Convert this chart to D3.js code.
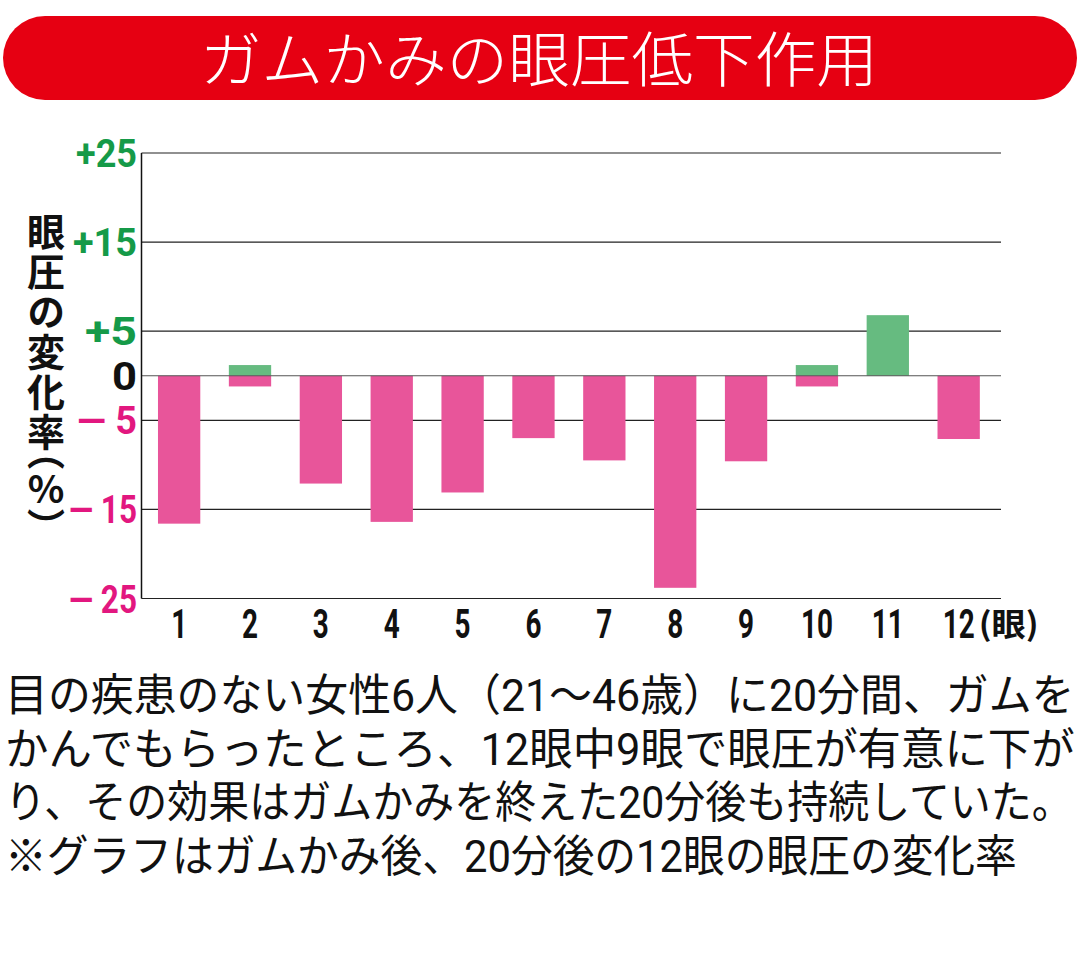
<!DOCTYPE html>
<html>
<head>
<meta charset="utf-8">
<script src="https://cdn.jsdelivr.net/npm/d3@7"></script>
<style>
  body { margin: 0; background: #fff; }
  svg { display: block; }
</style>
</head>
<body>
<svg id="chart"></svg>
<script>
const eyes = ["1", "2", "3", "4", "5", "6", "7", "8", "9", "10", "11", "12"];
const riseValues = [0, 1.2, 0, 0, 0, 0, 0, 0, 0, 1.2, 6.8, 0];
const dropValues = [-16.6, -1.2, -12.1, -16.4, -13.1, -7.0, -9.5, -23.8, -9.6, -1.2, 0, -7.1];
const tickValues = [25, 15, 5, 0, -5, -15, -25];
const tickLabels = ["+25", "+15", "+5", "0", "\u2014 5", "\u2014 15", "\u2014 25"];
const axisTitle = ["眼圧の変化率", "（%）"];
const titleText = "ガムかみの眼圧低下作用";
const noteLines = [
  "目の疾患のない女性6人（21～46歳）に20分間、ガムを",
  "かんでもらったところ、12眼中9眼で眼圧が有意に下が",
  "り、その効果はガムかみを終えた20分後も持続していた。",
  "※グラフはガムかみ後、20分後の12眼の眼圧の変化率"
];

const W = 1080, H = 979;
const jp = "'Noto Sans CJK JP', 'Noto Sans', sans-serif";
const latin = "'Roboto', 'Noto Sans', sans-serif";
const pink = "#e8559a", green = "#66bb80";

const svg = d3.select("#chart").attr("width", W).attr("height", H);
svg.append("rect").attr("width", W).attr("height", H).attr("fill", "#fff");

// squeeze a text horizontally to a given width (anchor handled by text-anchor)
function squeeze(sel, widthOf, xOf, yOf) {
  sel.each(function(d, i) {
    const len = this.getComputedTextLength();
    const k = widthOf(d, i) / len;
    d3.select(this)
      .attr("x", 0).attr("y", 0)
      .attr("transform", `translate(${xOf(d, i)},${yOf(d, i)}) scale(${k},1)`);
  });
}

// title banner
svg.append("rect")
    .attr("x", 3).attr("y", 16).attr("width", 1074).attr("height", 84)
    .attr("rx", 42).attr("fill", "#e60012");
svg.append("text")
    .attr("text-anchor", "start")
    .attr("font-family", jp).attr("font-weight", 300).attr("font-size", 60).attr("fill", "#fff")
    .text(titleText)
    .call(squeeze, () => 678, () => 200, () => 82);

const x = d3.scaleBand()
    .domain(eyes)
    .range([143.7, 994.1])
    .paddingInner(0.403)
    .paddingOuter(0.2015);

const y = d3.scaleLinear()
    .domain([-25, 25])
    .range([598.5, 153]);

const plotLeft = 141.5, plotRight = 1001;

// gridlines
svg.append("g").selectAll("line")
    .data(tickValues.filter(d => d !== 0))
  .enter().append("line")
    .attr("x1", plotLeft).attr("x2", plotRight)
    .attr("y1", d => y(d)).attr("y2", d => y(d))
    .attr("stroke", "#222").attr("stroke-width", 1.2);

// bars
svg.append("g").selectAll("rect")
    .data(eyes.map((e, i) => ({ e, v: riseValues[i] })).filter(d => d.v > 0))
  .enter().append("rect")
    .attr("x", d => x(d.e)).attr("width", x.bandwidth())
    .attr("y", d => y(d.v)).attr("height", d => y(0) - y(d.v))
    .attr("fill", green);

svg.append("g").selectAll("rect")
    .data(eyes.map((e, i) => ({ e, v: dropValues[i] })).filter(d => d.v < 0))
  .enter().append("rect")
    .attr("x", d => x(d.e)).attr("width", x.bandwidth())
    .attr("y", y(0)).attr("height", d => y(d.v) - y(0))
    .attr("fill", pink);

// zero line + y axis line
svg.append("line")
    .attr("x1", plotLeft).attr("x2", plotRight)
    .attr("y1", y(0)).attr("y2", y(0))
    .attr("stroke", "#555").attr("stroke-width", 1.2);
svg.append("line")
    .attr("x1", plotLeft).attr("x2", plotLeft)
    .attr("y1", y(25)).attr("y2", y(-25))
    .attr("stroke", "#111").attr("stroke-width", 1.5);

// y tick labels
const tickWidths = [61, 64, 52, 25, 60, 68, 68];
svg.append("g").selectAll("text")
    .data(tickValues)
  .enter().append("text")
    .attr("text-anchor", "end")
    .attr("font-family", latin).attr("font-weight", "bold").attr("font-size", 39)
    .attr("fill", d => d > 0 ? "#159a48" : d < 0 ? "#e2177f" : "#111")
    .text((d, i) => tickLabels[i])
    .call(squeeze, (d, i) => tickWidths[i], () => 137, d => y(d) + 14);

// x labels
svg.append("g").selectAll("text")
    .data(eyes)
  .enter().append("text")
    .attr("text-anchor", "middle")
    .attr("font-family", latin).attr("font-weight", "bold").attr("font-size", 40)
    .attr("fill", "#111")
    .text(d => d)
    .call(squeeze, d => d.length * 16, d => x(d) + x.bandwidth() / 2, () => 638);
svg.append("text")
    .attr("text-anchor", "start")
    .attr("font-family", jp).attr("font-weight", "bold").attr("font-size", 32)
    .attr("fill", "#111")
    .text("(眼)")
    .call(squeeze, () => 60, () => x("12") + x.bandwidth() / 2 + 20, () => 636);

// vertical axis title (vertical writing)
const titleTop = [213, 451];
svg.append("g").selectAll("text")
    .data(axisTitle)
  .enter().append("text")
    .attr("x", 46)
    .attr("y", (d, i) => titleTop[i])
    .style("writing-mode", "vertical-rl")
    .style("text-orientation", "upright")
    .style("font-feature-settings", (d, i) => i === 1 ? "'vhal'" : null)
    .style("letter-spacing", (d, i) => i === 0 ? "2px" : "0px")
    .attr("font-family", jp).attr("font-weight", "bold").attr("font-size", 38)
    .attr("fill", "#111")
    .text(d => d);

// note text
const noteWidths = [1070, 1070, 1068, 1012];
svg.append("g").selectAll("text")
    .data(noteLines)
  .enter().append("text")
    .attr("text-anchor", "start")
    .attr("font-family", "'Roboto', 'Noto Sans CJK JP', sans-serif").attr("font-size", 44)
    .attr("fill", "#111")
    .text(d => d)
    .call(squeeze, (d, i) => noteWidths[i], () => 5, (d, i) => 711 + i * 53.7);
</script>
</body>
</html>
